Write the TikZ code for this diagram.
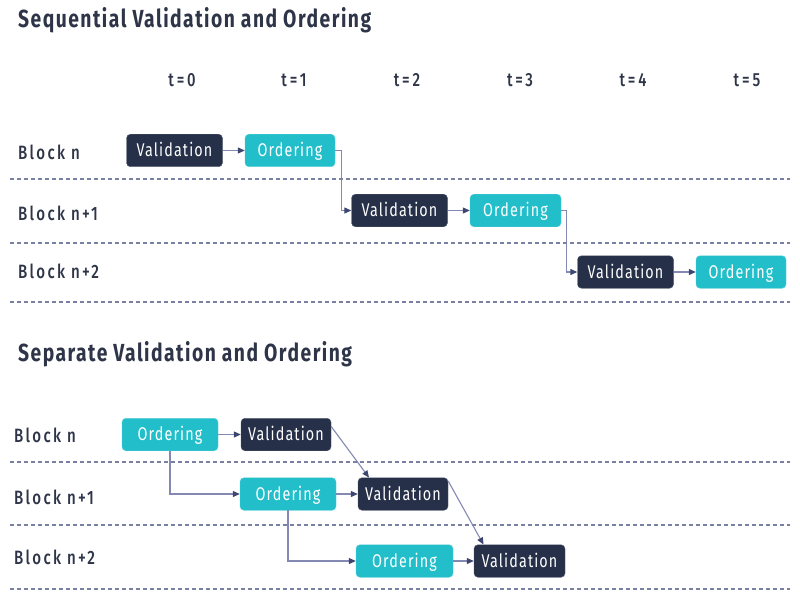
\documentclass[tikz,border=0pt]{standalone}
\usepackage{fontspec}
\setmainfont{Fira Sans}
\newfontfamily\condf[FakeStretch=0.78,LetterSpace=6]{Fira Sans}
\newfontfamily\condmed[FakeStretch=0.78,LetterSpace=12]{Fira Sans Medium}
\newfontfamily\condwide[FakeStretch=0.78,LetterSpace=15]{Fira Sans Medium}
\usetikzlibrary{arrows.meta}
\definecolor{navy}{HTML}{263048}
\definecolor{teal}{HTML}{22BFCB}
\definecolor{ink}{HTML}{2E3548}
\definecolor{wire}{HTML}{8389B3}
\definecolor{tipc}{HTML}{3D4670}
\definecolor{dash}{HTML}{7A80A3}
\begin{document}
\begin{tikzpicture}[x=1pt,y=-1pt,
  boxbase/.style={rectangle,rounded corners=4pt,minimum height=32.5pt,inner sep=0pt,
    text height=14pt,text depth=2pt,
    text=white,font=\condf\fontsize{18.4}{21}\selectfont},
  vbox/.style={boxbase,fill=navy,draw=navy!80!white,minimum width=96pt},
  obox/.style={boxbase,fill=teal,draw=teal!80!white,minimum width=91pt},
  title/.style={anchor=base west,inner sep=0pt,text=ink,font=\condf\bfseries\fontsize{24.7}{28}\selectfont},
  rowlab/.style={anchor=west,inner sep=0pt,text=ink,font=\condmed\fontsize{19.3}{22}\selectfont},
  tlab/.style={inner sep=0pt,text=ink,font=\condwide\fontsize{19}{22}\selectfont},
  conn/.style={draw=wire,line width=1.1pt,-{Triangle[length=7pt,width=6pt,color=tipc]}},
  sep/.style={draw=dash,line width=1.1pt,dash pattern=on 4pt off 3pt}
]
\useasboundingbox (0,0) rectangle (800,604);

% ---------- Top section ----------
\node[title] (t1) at (18,27.5) {Sequential Validation and Ordering};

\node[tlab] (tt0) at (182,80) {t=0};
\node[tlab] (tt1) at (294,80) {t=1};
\node[tlab] (tt2) at (407,80) {t=2};
\node[tlab] (tt3) at (520,80) {t=3};
\node[tlab] (tt4) at (633,80) {t=4};
\node[tlab] (tt5) at (747,80) {t=5};

\node[rowlab] (la1) at (18,152) {Block n};
\node[rowlab] (la2) at (18,213) {Block n+1};
\node[rowlab] (la3) at (18,271) {Block n+2};

\coordinate (d1a) at (10,179); \coordinate (d1b) at (790,179);
\coordinate (d2a) at (10,243); \coordinate (d2b) at (790,243);
\coordinate (d3a) at (10,302); \coordinate (d3b) at (790,302);
\draw[sep] (d1a) -- (d1b);
\draw[sep] (d2a) -- (d2b);
\draw[sep] (d3a) -- (d3b);

\node[vbox] (v1) at (174.5,150.5) {Validation};
\node[obox,minimum width=90pt] (o1) at (290,150.5) {Ordering};
\node[vbox] (v2) at (399.5,210.5) {Validation};
\node[obox] (o2) at (515.5,210.5) {Ordering};
\node[vbox] (v3) at (625.5,272) {Validation};
\node[obox,minimum width=90pt] (o3) at (741,272) {Ordering};

\draw[conn] (v1) -- (o1);
\draw[conn] (o1.east) -- ++(6,0) |- (v2.west);
\draw[conn] (v2) -- (o2);
\draw[conn] (o2.east) -- ++(5,0) |- (v3.west);
\draw[conn] (v3) -- (o3);

% ---------- Bottom section ----------
\node[title] (t2) at (18,361) {Separate Validation and Ordering};

\node[rowlab] (lb1) at (14,435) {Block n};
\node[rowlab] (lb2) at (14,497) {Block n+1};
\node[rowlab] (lb3) at (14,557) {Block n+2};

\coordinate (e1a) at (10,462); \coordinate (e1b) at (790,462);
\coordinate (e2a) at (10,525); \coordinate (e2b) at (790,525);
\coordinate (e3a) at (10,589); \coordinate (e3b) at (790,589);
\draw[sep] (e1a) -- (e1b);
\draw[sep] (e2a) -- (e2b);
\draw[sep] (e3a) -- (e3b);

\node[obox,minimum width=96pt] (bo1) at (170,434.5) {Ordering};
\node[vbox,minimum width=90pt] (bv1) at (286,434.5) {Validation};
\node[obox,minimum width=96pt] (bo2) at (288,494) {Ordering};
\node[vbox,minimum width=90pt] (bv2) at (403,494) {Validation};
\node[obox,minimum width=97pt] (bo3) at (404.5,561) {Ordering};
\node[vbox,minimum width=91pt] (bv3) at (519.5,561) {Validation};

\draw[conn] (bo1) -- (bv1);
\draw[conn] (bo2) -- (bv2);
\draw[conn] (bo3) -- (bv3);
\draw[conn] (bo1.south) |- (bo2.west);
\draw[conn] (bo2.south) |- (bo3.west);
\draw[conn] ([yshift=8pt]bv1.east) -- ([xshift=-34pt]bv2.north);
\draw[conn] ([yshift=13pt]bv2.east) -- ([xshift=-36pt]bv3.north);
\end{tikzpicture}
\end{document}
